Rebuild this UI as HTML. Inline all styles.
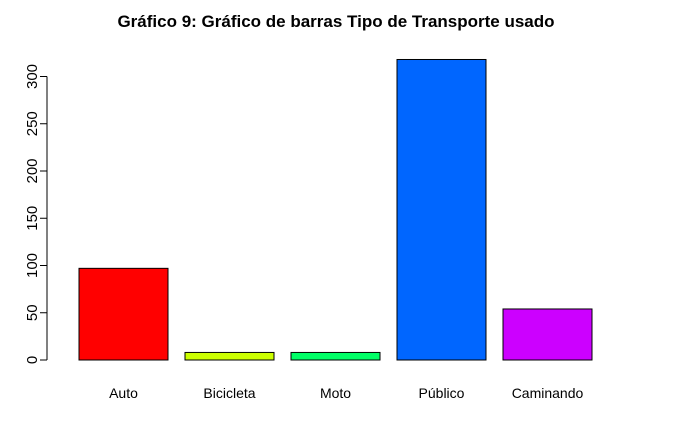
<!DOCTYPE html>
<html><head><meta charset="utf-8"><style>
html,body{margin:0;padding:0;background:#fff;}
svg{display:block;font-family:"Liberation Sans",Arial,sans-serif;}
</style></head><body>
<svg id="chart" width="674" height="427" viewBox="0 0 674 427">
<text x="336" y="27" text-anchor="middle" font-size="17" font-weight="bold">Gráfico 9: Gráfico de barras Tipo de Transporte usado</text>
<g id="bars"></g>
<g id="yaxis"></g>
</svg>
<script>
const categories = ["Auto","Bicicleta","Moto","Público","Caminando"];
const values = [97, 8, 8, 318, 54];
const colors = ["#FF0000","#CCFF00","#00FF66","#0066FF","#CC00FF"];
const yTicks = [0,50,100,150,200,250,300];

const ns="http://www.w3.org/2000/svg";
const y0=360, pxPerUnit=283.5/300;
function yScale(v){return y0 - v*pxPerUnit;}
function xScale(i){return 79 + i*106;}
const barW=89;
const bars=document.getElementById('bars');
categories.forEach((c,i)=>{
  const r=document.createElementNS(ns,'rect');
  
  
  r.setAttribute('x',xScale(i));r.setAttribute('y',yScale(values[i]));
  r.setAttribute('width',barW);r.setAttribute('height',y0-yScale(values[i]));
  r.setAttribute('fill',colors[i]);r.setAttribute('stroke','#000');r.setAttribute('stroke-width','1');
  bars.appendChild(r);
  const t=document.createElementNS(ns,'text');
  
  
  t.setAttribute('x',xScale(i)+barW/2);t.setAttribute('y',398);
  t.setAttribute('text-anchor','middle');t.setAttribute('font-size','14');
  t.textContent=c;bars.appendChild(t);
});
const ya=document.getElementById('yaxis');
const ax=document.createElementNS(ns,'line');


ax.setAttribute('x1',47);ax.setAttribute('x2',47);
ax.setAttribute('y1',yScale(yTicks[0]));ax.setAttribute('y2',yScale(yTicks[yTicks.length-1]));
ax.setAttribute('stroke','#000');ya.appendChild(ax);
yTicks.forEach(v=>{
  const l=document.createElementNS(ns,'line');
  
  
  l.setAttribute('x1',40);l.setAttribute('x2',47);
  l.setAttribute('y1',yScale(v));l.setAttribute('y2',yScale(v));
  l.setAttribute('stroke','#000');ya.appendChild(l);
  const t=document.createElementNS(ns,'text');
  
  
  const yy=yScale(v);
  t.setAttribute('transform','translate(37,'+yy+') rotate(-90)');
  t.setAttribute('text-anchor','middle');t.setAttribute('font-size','15');
  t.textContent=v;ya.appendChild(t);
});
</script>
</body></html>
